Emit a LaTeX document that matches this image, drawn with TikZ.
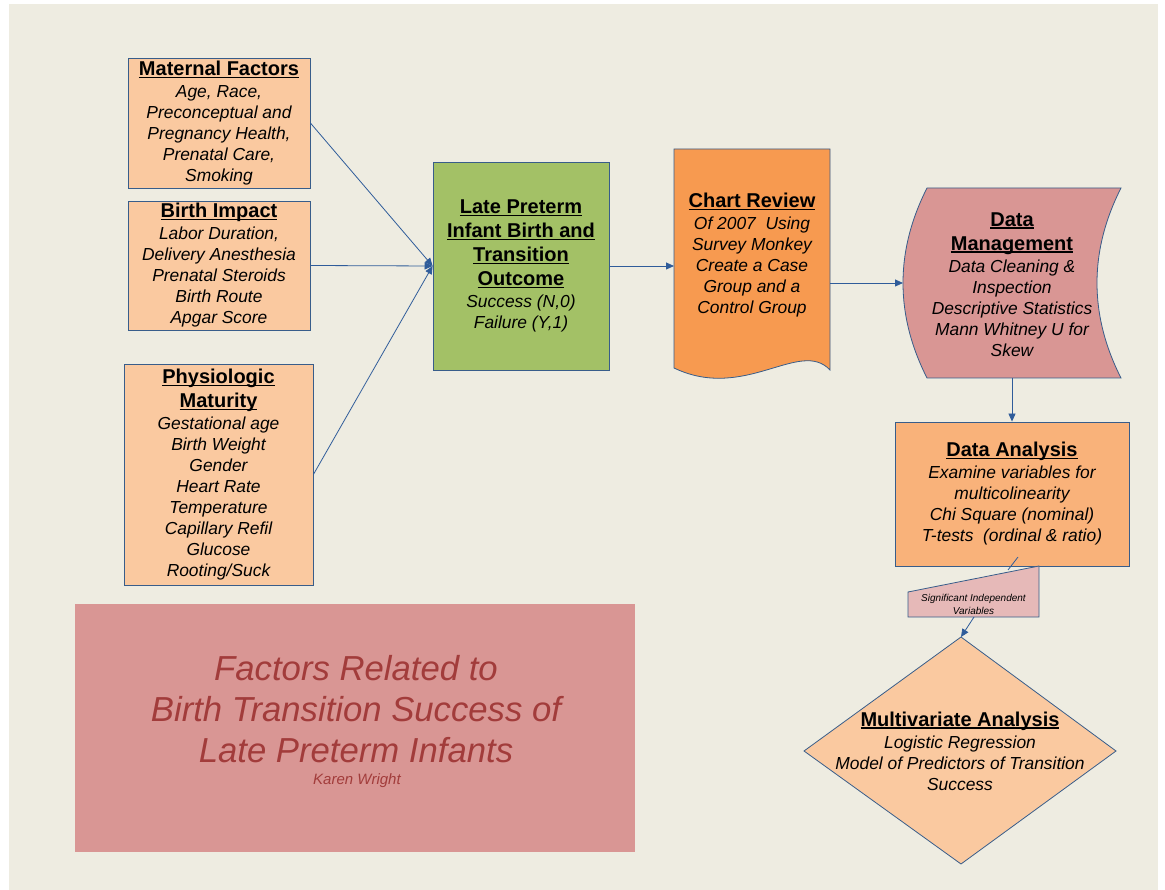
\documentclass[tikz,border=0pt]{standalone}
\usepackage{fontspec}
\setmainfont{Liberation Sans}
\usetikzlibrary{arrows.meta,positioning}

\definecolor{slide}{HTML}{EEECE1}
\definecolor{lineblue}{HTML}{385D8A}
\definecolor{arrowblue}{HTML}{2F5C9A}
\definecolor{peach}{HTML}{FAC9A0}
\definecolor{oliveg}{HTML}{A3C166}
\definecolor{chartorange}{HTML}{F79A50}
\definecolor{rosy}{HTML}{D99694}
\definecolor{analysisorange}{HTML}{F9B27A}
\definecolor{palerose}{HTML}{E6B9B8}
\definecolor{titlered}{HTML}{A23C3B}

% heading: bold, upright, underlined at a fixed depth
\newcommand\hd[1]{{\upshape\bfseries\fontsize{20}{24}\selectfont\setbox0\hbox{#1}\rlap{\rule[-2.4pt]{\wd0}{1.3pt}}\box0}}

\tikzstyle{factor} = [rectangle, draw=lineblue, line width=0.8pt, fill=peach, inner sep=0pt, align=center, font=\itshape\fontsize{17.4}{21}\selectfont]
\tikzstyle{shapetext} = [inner sep=0pt, align=center, font=\itshape\fontsize{17.4}{21}\selectfont]
\tikzstyle{outline} = [draw=lineblue, line width=0.8pt]
\tikzstyle{link} = [draw=arrowblue, line width=0.8pt, -{Triangle[length=8pt,width=7pt]}]

\begin{document}
\begin{tikzpicture}[x=1pt, y=-1pt]

	\useasboundingbox (0,0) rectangle (1165,890);
	\fill[white] (0,0) rectangle (1165,890);
	\fill[slide] (9,4) rectangle (1158,890);

	% input factors
	\node (maternal) [factor, minimum width=182pt, minimum height=130pt] at (219,123) {\hd{Maternal Factors}\\[1pt] Age, Race,\\ Preconceptual and\\ Pregnancy Health,\\ Prenatal Care,\\ Smoking};
	\node (impact) [factor, minimum width=182pt, minimum height=129pt] at (219,265.5) {\hd{Birth Impact}\\[1pt] Labor Duration,\\ Delivery Anesthesia\\ Prenatal Steroids\\ Birth Route\\ Apgar Score};
	\node (physio) [factor, minimum width=189pt, minimum height=221pt] at (218.5,474.5) {\hd{Physiologic}\\[3pt] \hd{Maturity}\\[1pt] Gestational age\\ Birth Weight\\ Gender\\ Heart Rate\\ Temperature\\ Capillary Refil\\ Glucose\\ Rooting/Suck};

	% outcome
	\node (outcome) [factor, fill=oliveg, minimum width=176pt, minimum height=208pt] at (521,266) {\hd{Late Preterm}\\[3pt] \hd{Infant Birth and}\\[3pt] \hd{Transition}\\[3pt] \hd{Outcome}\\[1pt] Success (N,0)\\ Failure (Y,1)};

	% chart review (document)
	\path[outline, fill=chartorange] (674,149) -- (830,149) -- (830,370) .. controls (800,338) and (745,402) .. (674,368) -- cycle;
	\node (chart) [shapetext] at (752,255) {\hd{Chart Review}\\[1pt] Of 2007~ Using\\ Survey Monkey\\ Create a Case\\ Group and a\\ Control Group};
	\coordinate (chartL) at (674,266);
	\coordinate (chartR) at (830,283);

	% data management (stored data)
	\path[outline, fill=rosy] (927,188) -- (1121,188) .. controls (1089,251) and (1089,315) .. (1121,378) -- (927,378) .. controls (895,315) and (895,251) .. (927,188) -- cycle;
	\node (manage) [shapetext] at (1012,284.5) {\hd{Data}\\[3pt] \hd{Management}\\[1pt] Data Cleaning \&\\ Inspection\\ Descriptive Statistics\\ Mann Whitney U for\\ Skew};
	\coordinate (manageL) at (903,283);
	\coordinate (manageB) at (1012,378);

	% data analysis
	\node (analysis) [factor, fill=analysisorange, minimum width=234pt, minimum height=144pt] at (1012,494) {\hd{Data Analysis}\\[1pt] Examine variables for\\ multicolinearity\\ Chi Square (nominal)\\ T-tests~ (ordinal \& ratio)};

	% significant variables (manual input)
	\path[outline, fill=palerose] (908,592) -- (1039,566) -- (1039,617) -- (908,617) -- cycle;
	\node (signif) [shapetext, font=\itshape\fontsize{10}{13}\selectfont] at (973.5,604) {Significant Independent\\ Variables};
	\coordinate (signifT) at (1008,570);
	\coordinate (signifB) at (974,617);
	\coordinate (analysisIn) at (1018,557);

	% multivariate analysis (decision)
	\path[outline, fill=peach] (961,637) -- (1116,751) -- (961,864) -- (804,751) -- cycle;
	\node (multi) [shapetext] at (960,751) {\hd{Multivariate Analysis}\\[1pt] Logistic Regression\\ Model of Predictors of Transition\\ Success};
	\coordinate (multiT) at (961,637);

	% title panel
	\fill[rosy] (75,604) rectangle (635,852);
	\node (title) [inner sep=0pt, align=center, text=titlered, font=\itshape\fontsize{34.7}{41}\selectfont] at (356,709) {Factors Related to\\ Birth Transition Success of\\ Late Preterm Infants};
	\node (author) [inner sep=0pt, text=titlered, font=\itshape\fontsize{15}{17}\selectfont] at (357,781) {Karen Wright};

	\draw [link] (maternal.east) -- (outcome.west);
	\draw [link] (impact.east) -- (outcome.west);
	\draw [link] (physio.east) -- (outcome.west);
	\draw [link] (outcome.east) -- (chartL);
	\draw [link] (chartR) -- (manageL);
	\draw [link] (manageB) -- (analysis.north);
	\draw [draw=arrowblue, line width=0.8pt] (analysisIn) -- (signifT);
	\draw [link] (signifB) -- (multiT);

\end{tikzpicture}
\end{document}
